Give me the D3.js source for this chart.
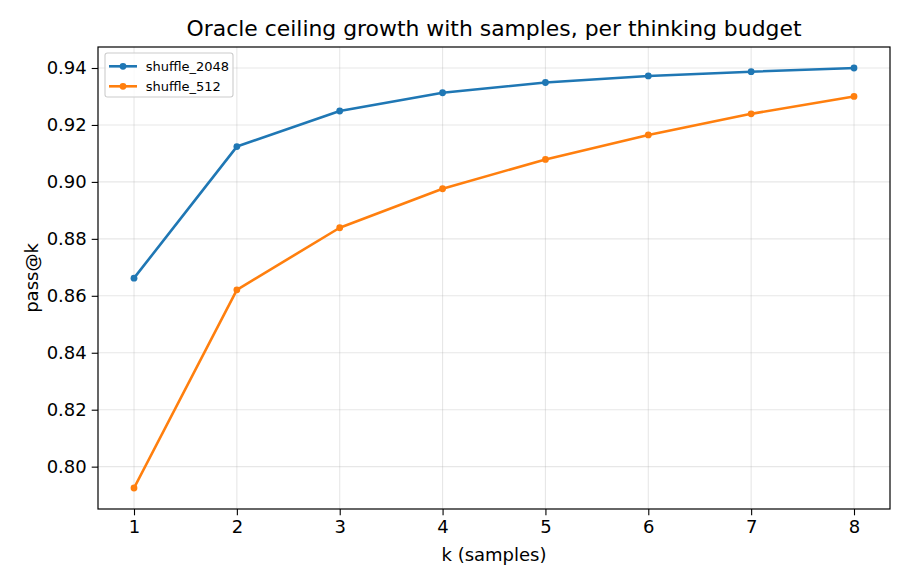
<!DOCTYPE html>
<html>
<head>
<meta charset="utf-8">
<script src="https://cdn.jsdelivr.net/npm/d3@7"></script>
<style>
  body { margin: 0; background: #fff; }
  svg { font-family: "DejaVu Sans", sans-serif; }
</style>
</head>
<body>
<div id="chart"></div>
<script>
const ks = [1, 2, 3, 4, 5, 6, 7, 8];
const shuffle2048 = [0.8662, 0.9124, 0.9249, 0.9313, 0.9349, 0.9372, 0.9387, 0.9400];
const shuffle512 = [0.7925, 0.8621, 0.8839, 0.8976, 0.9079, 0.9165, 0.9239, 0.9300];
const yTicks = [0.80, 0.82, 0.84, 0.86, 0.88, 0.90, 0.92, 0.94];
const seriesNames = ["shuffle_2048", "shuffle_512"];
const seriesColors = ["#1f77b4", "#ff7f0e"];

const width = 910, height = 585;
const margin = { top: 47, right: 20, bottom: 76, left: 98 };
const fs = 18; // 10pt at 130 dpi

const series = [shuffle2048, shuffle512].map((vals, i) => ({
  name: seriesNames[i],
  color: seriesColors[i],
  points: ks.map((k, j) => ({ k, v: vals[j] }))
}));

const svg = d3.select("#chart").append("svg")
  .attr("width", width)
  .attr("height", height);

// matplotlib-style 5% margins
const allVals = shuffle2048.concat(shuffle512);
const yMin = d3.min(allVals), yMax = d3.max(allVals);
const yPad = (yMax - yMin) * 0.05;
const xPad = (d3.max(ks) - d3.min(ks)) * 0.05;

const x = d3.scaleLinear()
  .domain([d3.min(ks) - xPad, d3.max(ks) + xPad])
  .range([margin.left, width - margin.right]);
const y = d3.scaleLinear()
  .domain([yMin - yPad, yMax + yPad])
  .range([height - margin.bottom, margin.top]);

// grid
const grid = svg.append("g").attr("stroke", "#b0b0b0").attr("stroke-opacity", 0.3).attr("stroke-width", 1.1);
grid.selectAll(".gx").data(ks).join("line")
  .attr("x1", d => x(d)).attr("x2", d => x(d))
  .attr("y1", margin.top).attr("y2", height - margin.bottom);
grid.selectAll(".gy").data(yTicks).join("line")
  .attr("x1", margin.left).attr("x2", width - margin.right)
  .attr("y1", d => y(d)).attr("y2", d => y(d));

// axes
const xAxis = svg.append("g")
  .attr("transform", `translate(0,${height - margin.bottom})`)
  .call(d3.axisBottom(x).tickValues(ks).tickSize(6.3).tickPadding(5).tickFormat(d3.format("d")));
const yAxis = svg.append("g")
  .attr("transform", `translate(${margin.left},0)`)
  .call(d3.axisLeft(y).tickValues(yTicks).tickSize(6.3).tickPadding(5).tickFormat(d3.format(".2f")));
[xAxis, yAxis].forEach(a => {
  a.select(".domain").remove();
  a.selectAll("text").attr("font-size", fs + "px").attr("fill", "#000").attr("font-family", "DejaVu Sans");
  a.selectAll("line").attr("stroke", "#000").attr("stroke-width", 1.1);
});

// frame
svg.append("rect")
  .attr("x", margin.left).attr("y", margin.top)
  .attr("width", width - margin.left - margin.right)
  .attr("height", height - margin.top - margin.bottom)
  .attr("fill", "none").attr("stroke", "#000").attr("stroke-width", 1.2);

// lines
const line = d3.line().x(d => x(d.k)).y(d => y(d.v));
series.forEach(s => {
  svg.append("path").datum(s.points)
    .attr("fill", "none").attr("stroke", s.color).attr("stroke-width", 2.6)
    .attr("stroke-linejoin", "round").attr("stroke-linecap", "square")
    .attr("d", line);
  svg.append("g").selectAll("circle").data(s.points).join("circle")
    .attr("cx", d => x(d.k)).attr("cy", d => y(d.v)).attr("r", 3.4)
    .attr("fill", s.color);
});

// title & labels
svg.append("text").attr("x", (margin.left + width - margin.right) / 2).attr("y", 36)
  .attr("text-anchor", "middle").attr("font-size", "21.9px").text("Oracle ceiling growth with samples, per thinking budget");
svg.append("text").attr("x", (margin.left + width - margin.right) / 2).attr("y", 561)
  .attr("text-anchor", "middle").attr("font-size", fs + "px").text("k (samples)");
svg.append("text")
  .attr("transform", `translate(38,${(margin.top + height - margin.bottom) / 2}) rotate(-90)`)
  .attr("text-anchor", "middle").attr("font-size", fs + "px").text("pass@k");

// legend
const lg = svg.append("g").attr("transform", "translate(105,53)");
lg.append("rect").attr("width", 128).attr("height", 44).attr("rx", 2.5)
  .attr("fill", "#fff").attr("fill-opacity", 0.8).attr("stroke", "#ccc").attr("stroke-width", 1.1);
series.forEach((s, i) => {
  const row = lg.append("g").attr("transform", `translate(0,${13.3 + i * 20})`);
  row.append("line").attr("x1", 4).attr("x2", 32).attr("stroke", s.color).attr("stroke-width", 2.6);
  row.append("circle").attr("cx", 18).attr("r", 3.4).attr("fill", s.color);
  row.append("text").attr("x", 40.7).attr("dy", "0.35em").attr("font-size", "13px").text(s.name);
});
</script>
</body>
</html>
